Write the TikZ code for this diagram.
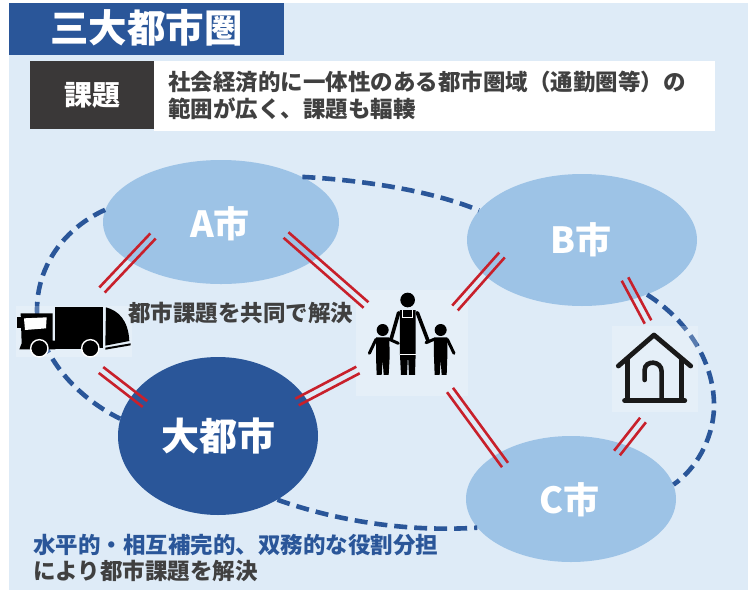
\documentclass[tikz,border=0pt]{standalone}
\usepackage{fontspec}
\setmainfont{Noto Sans CJK JP}
\usetikzlibrary{shapes.geometric,calc}
\definecolor{bgblue}{HTML}{DEEBF7}
\definecolor{navy}{HTML}{2A5699}
\definecolor{lightell}{HTML}{9DC3E6}
\definecolor{darkbox}{HTML}{3A3838}
\definecolor{graytext}{HTML}{404040}
\definecolor{redline}{HTML}{C8202B}
\tikzset{
  cityell/.style={ellipse,fill=lightell,draw=none,inner sep=0pt},
  citytext/.style={inner sep=0pt,text=white,font=\fontsize{36}{36}\selectfont\bfseries},
  dashline/.style={draw=navy,line width=4.6pt,dash pattern=on 13pt off 7pt},
  redstroke/.style={draw=redline,line width=2.6pt},
  lbl/.style={inner sep=0pt,anchor=west,text=graytext,font=\fontsize{22.5}{24}\selectfont\bfseries},
  iconbg/.style={fill=white,fill opacity=.22,draw=none,inner sep=0pt,anchor=north west},
}
\newcommand{\redpair}[2]{%
  \draw[redstroke] ($(#1)!3.7pt!90:(#2)$) -- ($(#2)!3.7pt!-90:(#1)$);
  \draw[redstroke] ($(#1)!3.7pt!-90:(#2)$) -- ($(#2)!3.7pt!90:(#1)$);}
\begin{document}
\begin{tikzpicture}[x=1pt,y=-1pt]
\useasboundingbox (0,0) rectangle (755,592);
\fill[white] (0,0) rectangle (755,592);
\fill[bgblue] (9,3) rectangle (748,590);
% header
\node[fill=navy,minimum width=275pt,minimum height=52pt,inner sep=0pt,anchor=north west] (title) at (9,3) {};
\node[text=white,inner sep=0pt,font=\fontsize{38.5}{38}\selectfont\bfseries] (titletext) at (146.5,28) {三大都市圏};
\node[fill=white,minimum width=561pt,minimum height=70pt,inner sep=0pt,anchor=north west] (issue) at (154,61) {};
\node[fill=darkbox,minimum width=124pt,minimum height=68pt,inner sep=0pt,anchor=north west,text=white,font=\fontsize{28}{28}\selectfont\bfseries] (issuelabel) at (30,61) {課題};
\node[lbl] (line1) at (168,82) {社会経済的に一体性のある都市圏域（通勤圏等）の};
\node[lbl] (line2) at (168,109) {範囲が広く、課題も輻輳};
% cities
\node[cityell,minimum width=236pt,minimum height=124pt] (A) at (221,222) {};
\node[cityell,minimum width=230pt,minimum height=132pt] (B) at (582,240) {};
\node[cityell,minimum width=210pt,minimum height=126pt] (C) at (571,499) {};
\node[cityell,fill=navy,minimum width=200pt,minimum height=158pt] (D) at (218,436) {};
\node[citytext] (Atext) at (220,224) {A市};
\node[citytext] (Btext) at (581,240) {B市};
\node[citytext] (Ctext) at (569,500) {C市};
\node[citytext,font=\fontsize{38}{38}\selectfont\bfseries] (Dtext) at (218,436) {大都市};
% dashed region
\draw[dashline] (A.29) .. controls (360,180) and (430,190) .. (B.164);
\draw[dashline] (A.174) .. controls (65,228) and (37,265) .. (37,310) .. controls (37,350) and (72,395) .. (D.170);
\draw[dashline] (D.-47) .. controls (340,522) and (410,532) .. (C.197);
\draw[dashline] (B.-40) .. controls (690,322) and (715,365) .. (714,408) .. controls (713,440) and (695,470) .. (C.8);
% icon backgrounds
\node[iconbg,minimum width=116pt,minimum height=51pt] (truck) at (16,306) {};
\node[iconbg,minimum width=112pt,minimum height=106pt] (family) at (356,290) {};
\node[iconbg,minimum width=86pt,minimum height=86pt] (house) at (612,326) {};
% truck
\begin{scope}[shift={(0,280)},x=.3333pt,y=-.3333pt]
\fill[black] (166,82) rectangle (310,205);
\fill[black] (318,82) .. controls (355,92) and (385,120) .. (388,183) -- (316,197) -- cycle;
\fill[black] (316,203) -- (392,190) -- (392,196) -- (316,209) -- cycle;
\fill[black] (62,100) -- (158,100) -- (158,182) -- (166,182) -- (166,208) -- (58,208) -- (65,190) -- cycle;
\fill[black] (52,112) rectangle (62,145);
\fill[white] (72,115) -- (140,112) -- (138,145) -- (75,150) -- cycle;
\fill[black] (150,205) rectangle (250,208);
\filldraw[fill=black,draw=white,line width=1.4pt] (118,205) circle (26);
\filldraw[fill=black,draw=white,line width=1.4pt] (271,205) circle (26);
\end{scope}
% family
\begin{scope}[shift={(350,280)},x=.3333pt,y=-.3333pt]
\fill[black] (173,60) circle (22);
\fill[black] (150,90) -- (197,90) -- (197,220) -- (195,285) -- (177,285) -- (174,225) -- (171,285) -- (153,285) -- (150,225) -- cycle;
\draw[white,line width=.7pt] (158,90) -- (158,112) -- (188,112) -- (188,90);
\draw[white,line width=.7pt] (150,222) -- (197,222);
\draw[black,line width=3.6pt,line cap=round] (146,98) -- (124,175);
\draw[black,line width=3.6pt,line cap=round] (202,98) -- (235,185);
\fill[black] (98,150) circle (18);
\fill[black] (78,172) -- (118,172) -- (119,230) -- (116,285) -- (101,285) -- (98,240) -- (95,285) -- (80,285) -- (78,230) -- cycle;
\draw[black,line width=3pt,line cap=round] (78,178) -- (58,220);
\draw[black,line width=3pt,line cap=round] (118,178) -- (145,190);
\fill[black] (272,150) circle (18);
\fill[black] (252,172) -- (292,172) -- (292,230) -- (290,285) -- (275,285) -- (272,240) -- (269,285) -- (254,285) -- (252,230) -- cycle;
\draw[black,line width=3pt,line cap=round] (292,178) -- (312,220);
\draw[black,line width=3pt,line cap=round] (252,178) -- (228,188);
\end{scope}
% house
\begin{scope}[shift={(600,270)},x=.3333pt,y=-.3333pt]
\draw[black!90,line width=4.8pt,line cap=round,line join=round] (55,288) -- (162,195) -- (272,288);
\draw[black!90,line width=4.4pt] (82,265) -- (82,392);
\draw[black!90,line width=4.4pt] (245,265) -- (245,392);
\draw[black!90,line width=5pt,line cap=round] (74,392) -- (254,392);
\draw[black!90,line width=4.6pt,line cap=round] (134,330) -- (134,300) .. controls (134,270) and (185,270) .. (185,305) -- (185,390);
\end{scope}
% red links
\coordinate (aT) at (153,236); \coordinate (tA) at (102,290);
\coordinate (aF) at (286,235); \coordinate (fA) at (366,305);
\coordinate (dT) at (101,370); \coordinate (tD) at (145,404);
\coordinate (dF) at (297,402); \coordinate (fD) at (358,370);
\coordinate (bF) at (502,255); \coordinate (fB) at (455,308);
\coordinate (bH) at (625,279); \coordinate (hB) at (648,322);
\coordinate (cH) at (617,453); \coordinate (hC) at (643,420);
\coordinate (cF) at (505,465); \coordinate (fC) at (450,390);
\redpair{aT}{tA}
\redpair{aF}{fA}
\redpair{dT}{tD}
\redpair{dF}{fD}
\redpair{bF}{fB}
\redpair{bH}{hB}
\redpair{cH}{hC}
\redpair{cF}{fC}
% texts
\node[lbl] (shared) at (128,313) {都市課題を共同で解決};
\node[lbl,text=navy] (role1) at (33,545) {水平的・相互補完的、双務的な役割分担};
\node[lbl] (role2) at (33,571) {により都市課題を解決};
\end{tikzpicture}
\end{document}
